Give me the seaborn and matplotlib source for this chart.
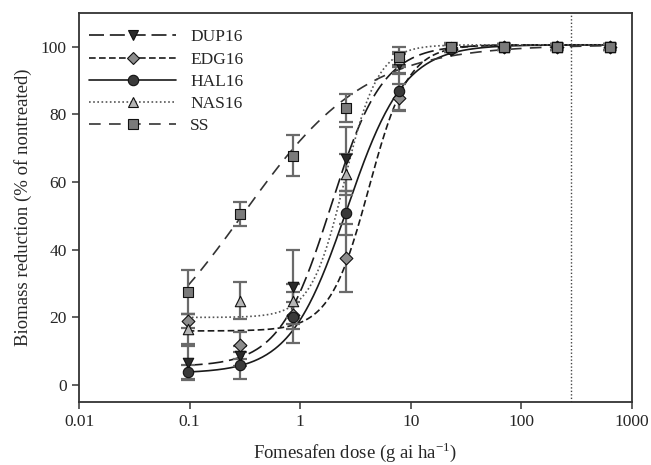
import numpy as np
import pandas as pd
import matplotlib
matplotlib.use("Agg")
import matplotlib.pyplot as plt
import seaborn as sns
from matplotlib.lines import Line2D

# ---------------- data ----------------
doses = [0.096, 0.288, 0.864, 2.59, 7.78, 23.3, 70, 210, 630]
populations = ["DUP16", "EDG16", "HAL16", "NAS16", "SS"]

dup16 = [6.5, 8.5, 29.0, 66.8, 95.0, 99.5, 100.0, 100.0, 100.0]
edg16 = [19.0, 11.8, 20.6, 37.6, 85.0, 99.5, 100.0, 100.0, 100.0]
hal16 = [3.8, 5.9, 20.0, 50.8, 86.8, 99.5, 100.0, 100.0, 100.0]
nas16 = [16.5, 25.0, 24.8, 62.3, 96.5, 100.0, 100.0, 100.0, 100.0]
ss = [27.6, 50.6, 67.8, 82.0, 97.0, 100.0, 100.0, 100.0, 100.0]

dup16_se = [5.0, 3.0, 11.0, 9.5, 3.0, 1.0, 0.8, 0.8, 0.8]
edg16_se = [2.0, 4.0, 4.0, 10.0, 4.0, 1.0, 0.8, 0.8, 0.8]
hal16_se = [2.0, 4.0, 7.5, 6.5, 5.5, 1.0, 0.8, 0.8, 0.8]
nas16_se = [4.5, 5.5, 5.0, 6.0, 2.0, 1.0, 0.8, 0.8, 0.8]
ss_se = [6.5, 3.5, 6.0, 4.2, 3.0, 1.0, 0.8, 0.8, 0.8]

# fitted four-parameter log-logistic curves: lower, upper, slope, ED50
fit_lower = [5.5, 16.0, 3.5, 20.0, 0.0]
fit_upper = [100.6, 100.6, 100.6, 100.6, 100.6]
fit_slope = [-1.86, -2.45, -1.68, -2.86, -0.78]
fit_ed50 = [1.90, 4.18, 2.65, 2.51, 0.30]

x_ticks = [0.01, 0.1, 1, 10, 100, 1000]
x_tick_labels = ["0.01", "0.1", "1", "10", "100", "1000"]
y_ticks = [0, 20, 40, 60, 80, 100]
label_rate = 280

# ---------------- style ----------------
values = [dup16, edg16, hal16, nas16, ss]
errors = [dup16_se, edg16_se, hal16_se, nas16_se, ss_se]
markers = ["v", "D", "o", "^", "s"]
msizes = [7.5, 6.5, 7.5, 7.5, 6.5]
face = ["#2a2a2a", "#8c8c8c", "#3a3a3a", "#b5b5b5", "#7a7a7a"]
line_col = ["#1a1a1a", "#1a1a1a", "#1a1a1a", "#555555", "#333333"]
dashes = [(9, 3.5), (4, 2), (), (1, 1.5), (7, 5)]

sns.set_theme(style="ticks")
plt.rcParams["font.family"] = ["Liberation Serif", "DejaVu Serif"]
plt.rcParams["mathtext.fontset"] = "custom"
plt.rcParams["mathtext.rm"] = "Liberation Serif"

fig = plt.figure(figsize=(6.51, 4.65), dpi=100)
ax = fig.add_axes([0.1214, 0.1355, 0.8494, 0.8365])

xs = np.logspace(np.log10(doses[0]), np.log10(doses[-1]), 300)
for i, name in enumerate(populations):
    c, d, b, e = fit_lower[i], fit_upper[i], fit_slope[i], fit_ed50[i]
    yfit = c + (d - c) / (1 + (xs / e) ** b)
    dfc = pd.DataFrame({"dose": xs, "y": yfit})
    sns.lineplot(data=dfc, x="dose", y="y", ax=ax, color=line_col[i],
                 lw=1.2, dashes=False, estimator=None, sort=True, zorder=2)
    if dashes[i]:
        ax.lines[-1].set_dashes(dashes[i])

for i, name in enumerate(populations):
    ax.errorbar(doses, values[i], yerr=errors[i], fmt="none",
                ecolor="#6a6a6a", elinewidth=1.6, capsize=5, capthick=1.6, zorder=3)

for i, name in enumerate(populations):
    dfp = pd.DataFrame({"dose": doses, "y": values[i]})
    sns.scatterplot(data=dfp, x="dose", y="y", ax=ax, marker=markers[i],
                    s=msizes[i] ** 2, color=face[i], edgecolor="#111111",
                    linewidth=0.8, zorder=4)

ax.axvline(label_rate, color="#444444", ls=(0, (1, 1.5)), lw=1.0, zorder=1)

ax.set_xscale("log")
ax.set_xlim(0.01, 1000)
ax.set_ylim(-5, 110)
ax.set_xticks(x_ticks)
ax.set_xticklabels(x_tick_labels)
ax.set_yticks(y_ticks)
ax.xaxis.set_minor_locator(matplotlib.ticker.NullLocator())
ax.tick_params(axis="both", direction="out", length=5, width=1.2,
               color="#444444", labelsize=12.5, pad=4)
for s in ax.spines.values():
    s.set_color("#333333")
    s.set_linewidth(1.3)

ax.set_xlabel("Fomesafen dose (g ai ha$^{-1}$)", fontsize=13.5, labelpad=7)
ax.set_ylabel("Biomass reduction (% of nontreated)", fontsize=13.5, labelpad=6)

handles = []
for i, name in enumerate(populations):
    h = Line2D([0], [0], color=line_col[i], lw=1.2, marker=markers[i],
               markersize=msizes[i], markerfacecolor=face[i],
               markeredgecolor="#111111", markeredgewidth=0.8)
    if dashes[i]:
        h.set_dashes(dashes[i])
    handles.append(h)
leg = ax.legend(handles, populations, loc="upper left", frameon=False,
                fontsize=12.5, handlelength=5.0, handletextpad=0.8,
                labelspacing=0.35, borderaxespad=0.2,
                bbox_to_anchor=(0.0, 0.985))

fig.savefig("out.png", dpi=100)
